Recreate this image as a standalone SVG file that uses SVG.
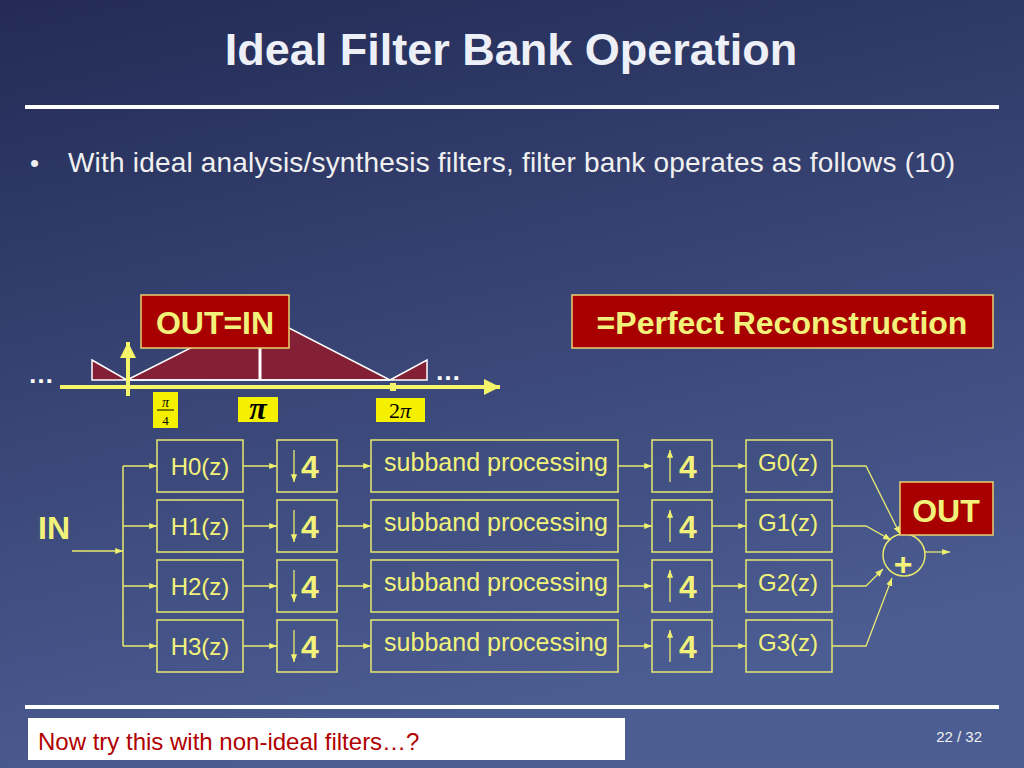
<svg xmlns="http://www.w3.org/2000/svg" width="1024" height="768" viewBox="0 0 1024 768">
<defs>
<linearGradient id="bg" x1="0" y1="0" x2="0.3" y2="1">
<stop offset="0" stop-color="#232b55"/><stop offset="1" stop-color="#4c5d93"/>
</linearGradient>
<marker id="a" viewBox="0 0 10 10" refX="10" refY="5" markerWidth="6" markerHeight="6" orient="auto"><path d="M0,1 L10,5 L0,9 z" fill="#f0f070"/></marker>
<marker id="ab" viewBox="0 0 10 10" refX="10" refY="5" markerWidth="4" markerHeight="4" orient="auto"><path d="M0,0 L10,5 L0,10 z" fill="#f5f56a"/></marker>
<style>
.b{fill:none;stroke:#e8e870;stroke-width:1.5}
.c{fill:none;stroke:#e8e870;stroke-width:1.3;marker-end:url(#a)}
.t{font-family:"Liberation Sans",Arial,sans-serif;fill:#f2f27a;font-size:24px}
.s{font-family:"Liberation Sans",Arial,sans-serif;fill:#f2f27a;font-size:25px}
.n{font-family:"Liberation Sans",Arial,sans-serif;fill:#f2f27a;font-size:32px;font-weight:bold}
.r{fill:#a80000;stroke:#e8d070;stroke-width:1.5}
.y{fill:#f5f000}
.m{font-family:"Liberation Serif",serif;font-style:italic;fill:#000}
</style>
</defs>
<rect width="1024" height="768" fill="url(#bg)"/>
<text x="511" y="65" text-anchor="middle" font-family="Liberation Sans,Arial,sans-serif" font-size="45" font-weight="bold" fill="#eef0f8">Ideal Filter Bank Operation</text>
<rect x="25" y="105" width="974" height="4" fill="#fff"/>
<text x="30" y="172" font-family="Liberation Sans,Arial,sans-serif" font-size="26" fill="#f0f0f0">•</text>
<text x="68" y="172" font-family="Liberation Sans,Arial,sans-serif" font-size="28" fill="#f0f0f0" textLength="887">With ideal analysis/synthesis filters, filter bank operates as follows (10)</text>
<g id="spectrum">
<polygon points="127,380 260,313 390,380" fill="#842036" stroke="#fff" stroke-width="1.5"/>
<line x1="127" y1="380" x2="390" y2="380" stroke="#fff" stroke-width="1.5"/>
<polygon points="92,360 127,380 92,380" fill="#842036" stroke="#fff" stroke-width="1.5"/>
<polygon points="390,380 427,360 427,380" fill="#842036" stroke="#fff" stroke-width="1.5"/>
<line x1="260" y1="345" x2="260" y2="380" stroke="#fff" stroke-width="3"/>
<line x1="60" y1="387" x2="500" y2="387" stroke="#f5f56a" stroke-width="4" marker-end="url(#ab)"/>
<line x1="128" y1="396" x2="128" y2="342" stroke="#f5f56a" stroke-width="4" marker-end="url(#ab)"/>
<rect x="390" y="383" width="6" height="8" fill="#f5f56a"/>
<text x="28" y="383" font-family="Liberation Sans,Arial,sans-serif" font-size="26" font-weight="bold" fill="#fff">…</text>
<text x="435" y="380" font-family="Liberation Sans,Arial,sans-serif" font-size="26" font-weight="bold" fill="#fff">…</text>
<rect class="y" x="153" y="392" width="25" height="36"/>
<text class="m" x="165.5" y="407" font-size="14" text-anchor="middle">π</text>
<line x1="157" y1="410" x2="174" y2="410" stroke="#000" stroke-width="1"/>
<text x="165.5" y="425" font-size="13" text-anchor="middle" font-family="Liberation Serif,serif">4</text>
<rect class="y" x="238" y="397" width="40" height="25"/>
<text class="m" x="258" y="419" font-size="32" text-anchor="middle" font-weight="bold">π</text>
<rect class="y" x="376" y="398" width="49" height="24"/>
<text x="400" y="418" font-size="22" text-anchor="middle" font-family="Liberation Serif,serif">2<tspan font-style="italic">π</tspan></text>
</g>
<g id="outin"><rect class="r" x="141" y="295" width="148" height="53"/><text x="215" y="334" text-anchor="middle" class="n" font-size="35">OUT=IN</text></g>
<g id="perfect"><rect class="r" x="572" y="295" width="421" height="53"/><text x="782" y="334" text-anchor="middle" class="n" font-size="35">=Perfect Reconstruction</text></g>
<g id="in"><text x="38" y="539" class="n" font-size="34">IN</text></g>
<g id="H0"><rect class="b" x="157" y="440" width="86" height="52"/><text class="t" x="200" y="475" text-anchor="middle">H0(z)</text></g>
<g id="H1"><rect class="b" x="157" y="500" width="86" height="52"/><text class="t" x="200" y="535" text-anchor="middle">H1(z)</text></g>
<g id="H2"><rect class="b" x="157" y="560" width="86" height="52"/><text class="t" x="200" y="595" text-anchor="middle">H2(z)</text></g>
<g id="H3"><rect class="b" x="157" y="620" width="86" height="52"/><text class="t" x="200" y="655" text-anchor="middle">H3(z)</text></g>
<g id="D0"><rect class="b" x="277" y="440" width="60" height="52"/><line class="c" x1="294" y1="450" x2="294" y2="482"/><text class="n" x="301" y="478">4</text></g>
<g id="D1"><rect class="b" x="277" y="500" width="60" height="52"/><line class="c" x1="294" y1="510" x2="294" y2="542"/><text class="n" x="301" y="538">4</text></g>
<g id="D2"><rect class="b" x="277" y="560" width="60" height="52"/><line class="c" x1="294" y1="570" x2="294" y2="602"/><text class="n" x="301" y="598">4</text></g>
<g id="D3"><rect class="b" x="277" y="620" width="60" height="52"/><line class="c" x1="294" y1="630" x2="294" y2="662"/><text class="n" x="301" y="658">4</text></g>
<g id="S0"><rect class="b" x="371" y="440" width="247" height="52"/><text class="s" x="496" y="471" text-anchor="middle">subband processing</text></g>
<g id="S1"><rect class="b" x="371" y="500" width="247" height="52"/><text class="s" x="496" y="531" text-anchor="middle">subband processing</text></g>
<g id="S2"><rect class="b" x="371" y="560" width="247" height="52"/><text class="s" x="496" y="591" text-anchor="middle">subband processing</text></g>
<g id="S3"><rect class="b" x="371" y="620" width="247" height="52"/><text class="s" x="496" y="651" text-anchor="middle">subband processing</text></g>
<g id="U0"><rect class="b" x="652" y="440" width="60" height="52"/><line class="c" x1="670" y1="482" x2="670" y2="450"/><text class="n" x="679" y="478">4</text></g>
<g id="U1"><rect class="b" x="652" y="500" width="60" height="52"/><line class="c" x1="670" y1="542" x2="670" y2="510"/><text class="n" x="679" y="538">4</text></g>
<g id="U2"><rect class="b" x="652" y="560" width="60" height="52"/><line class="c" x1="670" y1="602" x2="670" y2="570"/><text class="n" x="679" y="598">4</text></g>
<g id="U3"><rect class="b" x="652" y="620" width="60" height="52"/><line class="c" x1="670" y1="662" x2="670" y2="630"/><text class="n" x="679" y="658">4</text></g>
<g id="G0"><rect class="b" x="746" y="440" width="86" height="52"/><text class="t" x="788" y="471" text-anchor="middle">G0(z)</text></g>
<g id="G1"><rect class="b" x="746" y="500" width="86" height="52"/><text class="t" x="788" y="531" text-anchor="middle">G1(z)</text></g>
<g id="G2"><rect class="b" x="746" y="560" width="86" height="52"/><text class="t" x="788" y="591" text-anchor="middle">G2(z)</text></g>
<g id="G3"><rect class="b" x="746" y="620" width="86" height="52"/><text class="t" x="788" y="651" text-anchor="middle">G3(z)</text></g>
<g id="sum"><circle class="b" cx="904" cy="555" r="21"/><text class="n" x="903" y="575" text-anchor="middle" font-size="28">+</text></g>
<g id="out"><rect class="r" x="900" y="482" width="93" height="53"/><text class="n" x="946" y="522" text-anchor="middle" font-size="34">OUT</text></g>
<g id="connectors">
<line class="c" x1="72" y1="551" x2="123" y2="551"/>
<line class="b" x1="123" y1="466" x2="123" y2="646"/>
<line class="c" x1="123" y1="466" x2="157" y2="466"/>
<line class="c" x1="123" y1="526" x2="157" y2="526"/>
<line class="c" x1="123" y1="586" x2="157" y2="586"/>
<line class="c" x1="123" y1="646" x2="157" y2="646"/>
<line class="c" x1="243" y1="466" x2="277" y2="466"/>
<line class="c" x1="243" y1="526" x2="277" y2="526"/>
<line class="c" x1="243" y1="586" x2="277" y2="586"/>
<line class="c" x1="243" y1="646" x2="277" y2="646"/>
<line class="c" x1="337" y1="466" x2="371" y2="466"/>
<line class="c" x1="337" y1="526" x2="371" y2="526"/>
<line class="c" x1="337" y1="586" x2="371" y2="586"/>
<line class="c" x1="337" y1="646" x2="371" y2="646"/>
<line class="c" x1="618" y1="466" x2="652" y2="466"/>
<line class="c" x1="618" y1="526" x2="652" y2="526"/>
<line class="c" x1="618" y1="586" x2="652" y2="586"/>
<line class="c" x1="618" y1="646" x2="652" y2="646"/>
<line class="c" x1="712" y1="466" x2="746" y2="466"/>
<line class="c" x1="712" y1="526" x2="746" y2="526"/>
<line class="c" x1="712" y1="586" x2="746" y2="586"/>
<line class="c" x1="712" y1="646" x2="746" y2="646"/>
<polyline class="c" points="832,466 866,466 900,534"/>
<polyline class="c" points="832,526 866,526 891,540"/>
<polyline class="c" points="832,586 866,586 883,569"/>
<polyline class="c" points="832,646 866,646 892,578"/>
<line class="c" x1="925" y1="552" x2="950" y2="552"/>
</g>
<rect x="25" y="705" width="974" height="4" fill="#fff"/>
<rect x="28" y="718" width="597" height="42" fill="#fff"/>
<text x="38" y="750" font-family="Liberation Sans,Arial,sans-serif" font-size="24" fill="#b00000">Now try this with non-ideal filters…?</text>
<text x="982" y="742" text-anchor="end" font-family="Liberation Sans,Arial,sans-serif" font-size="15" fill="#f0f0f0">22 / 32</text>
</svg>
